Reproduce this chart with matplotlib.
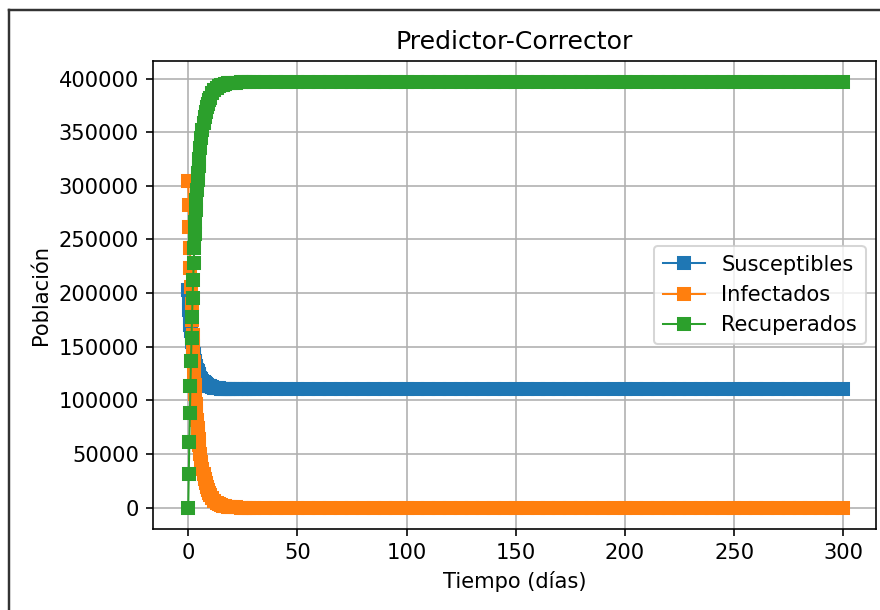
import matplotlib
matplotlib.use("Agg")
import matplotlib.pyplot as plt
from matplotlib.lines import Line2D

# ---- data ----
tiempo = [0, 0.25, 0.5, 0.75, 1.0, 1.25, 1.5, 1.75, 2.0, 2.25, 2.5, 2.75,
          3.0, 3.25, 3.5, 3.75, 4.0, 4.25, 4.5, 4.75, 5.0,
          5.5, 6.0, 6.5, 7.0, 7.5, 8.0, 8.5, 9.0, 9.5, 10,
          11, 12, 13, 14, 15, 16, 17, 18, 19, 20, 22, 24, 26, 28,
          30, 35, 40, 45, 50, 55, 60, 65, 70, 75, 80, 85, 90, 95, 100,
          105, 110, 115, 120, 125, 130, 135, 140, 145, 150, 155, 160, 165,
          170, 175, 180, 185, 190, 195, 200, 205, 210, 215, 220, 225, 230,
          235, 240, 245, 250, 255, 260, 265, 270, 275, 280, 285, 290, 295, 300]

susceptibles = [202800, 193200, 184700, 177200, 170500, 164500, 159200, 154400,
                150300, 146500, 143000, 140100, 137200, 134900, 132500, 130700,
                128800, 127100, 125700, 124500, 123300,
                121300, 119700, 118200, 117000, 116100, 115200, 114500, 113900,
                113400, 113000,
                112200, 111800, 111400, 111200, 111000, 110800, 110700, 110700,
                110600, 110600, 110500, 110500, 110500, 110500,
                110500, 110500, 110500, 110500, 110500, 110500, 110500, 110500,
                110500, 110500, 110500, 110500, 110500, 110500, 110500, 110500,
                110500, 110500, 110500, 110500, 110500, 110500, 110500, 110500,
                110500, 110500, 110500, 110500, 110500, 110500, 110500, 110500,
                110500, 110500, 110500, 110500, 110500, 110500, 110500, 110500,
                110500, 110500, 110500, 110500, 110500, 110500, 110500, 110500,
                110500, 110500, 110500, 110500, 110500, 110500, 110500]

infectados = [304200, 282100, 261300, 241600, 223200, 205900, 189800, 174700,
              160900, 148100, 135900, 125200, 114800, 105800, 96700, 89200,
              81900, 74700, 69000, 63700, 58900,
              50200, 42800, 36500, 31100, 26500, 22600, 19200, 16400, 13900, 11900,
              8600, 6200, 4500, 3200, 2400, 1800, 1300, 900, 700, 500, 300, 200,
              100, 100,
              0, 0, 0, 0, 0, 0, 0, 0, 0, 0, 0, 0, 0, 0, 0, 0, 0, 0, 0, 0,
              0, 0, 0, 0, 0, 0, 0, 0, 0, 0, 0, 0, 0, 0, 0, 0, 0, 0, 0, 0,
              0, 0, 0, 0, 0, 0, 0, 0, 0, 0, 0, 0, 0, 0, 0]

recuperados = [0, 31600, 61000, 88200, 113300, 136500, 158000, 177900,
               195800, 212400, 228100, 241700, 255000, 266300, 277700, 287100,
               296300, 305200, 312300, 318800, 324800,
               335500, 344500, 352300, 358900, 364400, 369200, 373300, 376700,
               379700, 382100,
               386200, 389000, 391100, 392600, 393600, 394400, 395000, 395400,
               395700, 395900, 396200, 396300, 396400, 396400,
               396500, 396500, 396500, 396500, 396500, 396500, 396500, 396500,
               396500, 396500, 396500, 396500, 396500, 396500, 396500, 396500,
               396500, 396500, 396500, 396500, 396500, 396500, 396500, 396500,
               396500, 396500, 396500, 396500, 396500, 396500, 396500, 396500,
               396500, 396500, 396500, 396500, 396500, 396500, 396500, 396500,
               396500, 396500, 396500, 396500, 396500, 396500, 396500, 396500,
               396500, 396500, 396500, 396500, 396500, 396500, 396500]

etiquetas = ["Susceptibles", "Infectados", "Recuperados"]
titulo = "Predictor-Corrector"
xlabel = "Tiempo (días)"
ylabel = "Población"

# ---- figure ----
plt.rcParams["font.size"] = 10.3
DPI = 146.67
fig = plt.figure(figsize=(880 / DPI, 610 / DPI), dpi=DPI)
ax = fig.add_axes([153.3 / 880, 1 - 529 / 610, (876 - 153.3) / 880, (529 - 61) / 610])

ax.plot(tiempo, susceptibles, "-s", color="#1f77b4", lw=1.0, label=etiquetas[0])
ax.plot(tiempo, infectados, "-s", color="#ff7f0e", lw=1.0, label=etiquetas[1])
ax.plot(tiempo, recuperados, "-s", color="#2ca02c", lw=1.0, label=etiquetas[2])

ax.set_xlim(-16, 315)
ax.set_title(titulo)
ax.set_xlabel(xlabel)
ax.set_ylabel(ylabel)
ax.grid(True)
ax.legend(loc="center right")

# screenshot frame (left and top edges)
fig.add_artist(Line2D([8.5 / 880, 8.5 / 880], [0, 1 - 10 / 610],
                      transform=fig.transFigure, color="#333333", lw=1.2))
fig.add_artist(Line2D([8.5 / 880, 1], [1 - 10 / 610, 1 - 10 / 610],
                      transform=fig.transFigure, color="#333333", lw=1.2))

fig.savefig("out.png", dpi=DPI)
